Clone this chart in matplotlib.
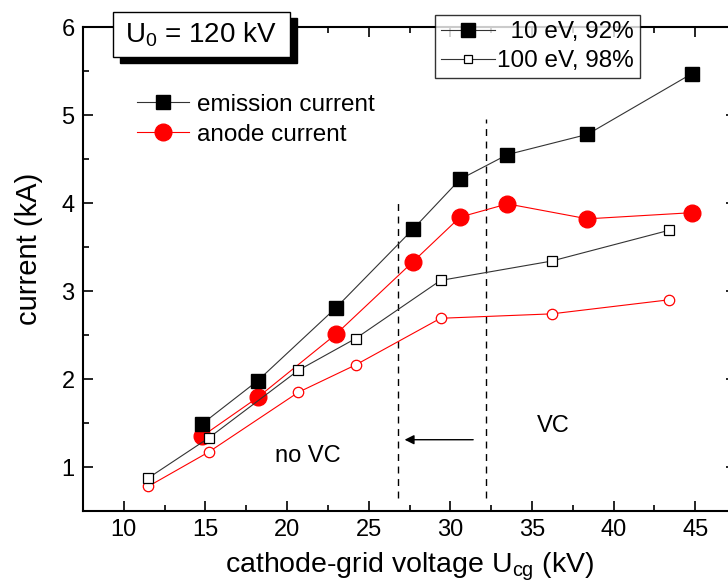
import matplotlib
matplotlib.use("Agg")
import matplotlib.pyplot as plt
from matplotlib.patches import Rectangle
from matplotlib.ticker import MultipleLocator

plt.rcParams['font.family'] = ['Liberation Sans', 'DejaVu Sans']
plt.rcParams['mathtext.fontset'] = 'custom'
plt.rcParams['mathtext.rm'] = 'Liberation Sans'
plt.rcParams['mathtext.default'] = 'regular'

# 10 eV, 92 %
x_10 = [14.8, 18.2, 23.0, 27.7, 30.6, 33.5, 38.4, 44.8]
emission_10 = [1.49, 1.98, 2.81, 3.70, 4.27, 4.55, 4.78, 5.47]
anode_10 = [1.35, 1.79, 2.51, 3.33, 3.84, 3.99, 3.82, 3.89]

# 100 eV, 98 %
x_100 = [11.5, 15.2, 20.7, 24.2, 29.4, 36.2, 43.4]
emission_100 = [0.875, 1.33, 2.10, 2.46, 3.12, 3.34, 3.69]
anode_100 = [0.78, 1.17, 1.85, 2.16, 2.69, 2.74, 2.90]

vc_lines = [26.8, 32.2]
vc_tops = [4.05, 4.96]

W, H = 728, 586
fig = plt.figure(figsize=(W / 100, H / 100), dpi=100)
ax = fig.add_axes([83 / W, 1 - 511 / H, (736 - 83) / W, (511 - 27) / H])

l_e10, = ax.plot(x_10, emission_10, '-', color='#333333', lw=0.8,
                 marker='s', ms=10, mfc='black', mec='black', zorder=4)
l_a10, = ax.plot(x_10, anode_10, '-', color='red', lw=0.8,
                 marker='o', ms=12, mfc='red', mec='red', zorder=3)
l_e100, = ax.plot(x_100, emission_100, '-', color='#333333', lw=0.8,
                  marker='s', ms=7.5, mfc='white', mec='black', mew=0.9, zorder=4)
l_a100, = ax.plot(x_100, anode_100, '-', color='red', lw=0.8,
                  marker='o', ms=7.5, mfc='white', mec='red', mew=0.9, zorder=3)

for xv, top in zip(vc_lines, vc_tops):
    ax.plot([xv, xv], [0.65, top], color='black', lw=1.0, ls=(0, (5, 4)), zorder=2)

ax.annotate('', xy=(27.2, 1.31), xytext=(31.4, 1.31),
            arrowprops=dict(arrowstyle='-|>', color='black', lw=1.0,
                            mutation_scale=14, shrinkA=0, shrinkB=0))
ax.text(36.3, 1.47, 'VC', fontsize=17, ha='center', va='center')
ax.text(21.25, 1.13, 'no VC', fontsize=17, ha='center', va='center')

ax.set_xlim(7.5, 47.5)
ax.set_ylim(0.5, 6)
ax.xaxis.set_major_locator(MultipleLocator(5))
ax.xaxis.set_minor_locator(MultipleLocator(2.5))
ax.yaxis.set_major_locator(MultipleLocator(1))
ax.yaxis.set_minor_locator(MultipleLocator(0.5))
ax.tick_params(which='both', direction='in', top=True, right=True, width=1.2, labelsize=17)
ax.tick_params(which='major', length=7, pad=6)
ax.tick_params(which='minor', length=4)
for s in ax.spines.values():
    s.set_linewidth(1.5)

ax.set_xlabel('cathode-grid voltage U$_{cg}$ (kV)', fontsize=20.5, labelpad=7)
ax.set_ylabel('current (kA)', fontsize=21)
ax.yaxis.set_label_coords(-0.062, 0.541)

leg1 = ax.legend([l_e10, l_a10], ['emission current', 'anode current'],
                 loc='upper left', bbox_to_anchor=(127 / W, 1 - 84 / H),
                 bbox_transform=fig.transFigure, frameon=False, fontsize=17.5,
                 handlelength=2.15, handletextpad=0.33, labelspacing=0.33,
                 borderaxespad=0)
ax.add_artist(leg1)

leg2 = ax.legend([l_e10, l_e100], ['\u200710 eV, 92%', '100 eV, 98%'],
                 loc='upper left', bbox_to_anchor=(435 / W, 1 - 15 / H),
                 bbox_transform=fig.transFigure, frameon=True, fancybox=False,
                 fontsize=17.5, handlelength=2.2, handletextpad=0.1,
                 labelspacing=0.3, borderpad=0.25, borderaxespad=0)
leg2.get_frame().set_edgecolor('black')
leg2.get_frame().set_linewidth(1.0)
leg2.legend_handles[1].set_markersize(6)
leg2.set_zorder(10)

# U0 label box with shadow
fig.patches.append(Rectangle((120 / W, 1 - 63 / H), 177 / W, 45 / H,
                             transform=fig.transFigure, facecolor='black',
                             edgecolor='black', zorder=20))
fig.patches.append(Rectangle((113 / W, 1 - 57 / H), 177 / W, 45 / H,
                             transform=fig.transFigure, facecolor='white',
                             edgecolor='black', lw=1.0, zorder=21))
fig.text(201 / W, 1 - 35 / H, 'U$_0$ = 120 kV', fontsize=20,
         ha='center', va='center', zorder=22)

fig.savefig('out.png', dpi=100)
